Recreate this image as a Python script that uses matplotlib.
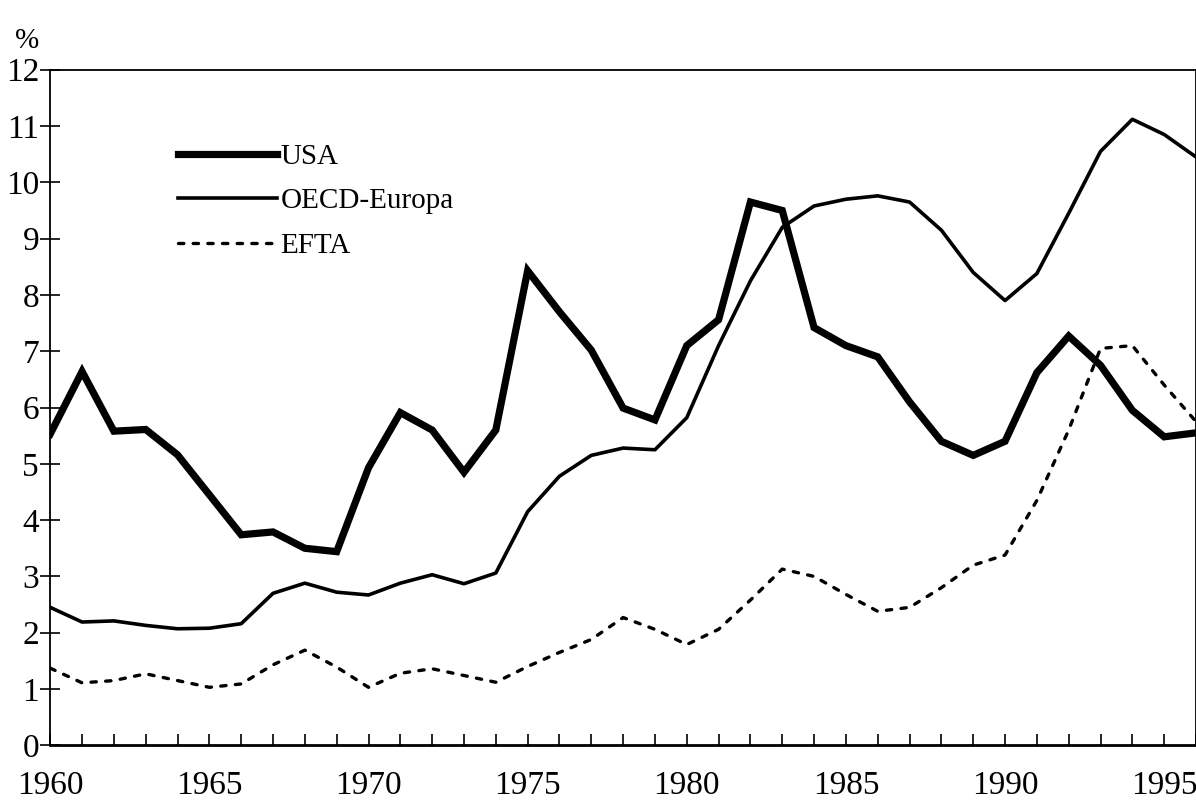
import matplotlib
matplotlib.use("Agg")
import matplotlib.pyplot as plt

plt.rcParams['font.family'] = ['Liberation Serif', 'DejaVu Serif']

years = list(range(1960, 1997))

usa = [5.53, 6.64, 5.58, 5.61, 5.16, 4.45, 3.74, 3.79, 3.50, 3.44,
       4.93, 5.91, 5.60, 4.85, 5.60, 8.43, 7.70, 7.02, 5.99, 5.78,
       7.10, 7.56, 9.65, 9.50, 7.42, 7.10, 6.90, 6.10, 5.40, 5.15,
       5.40, 6.62, 7.27, 6.75, 5.95, 5.48, 5.55]

oecd_europa = [2.45, 2.19, 2.21, 2.13, 2.07, 2.08, 2.16, 2.70, 2.88, 2.72,
               2.67, 2.88, 3.03, 2.87, 3.06, 4.15, 4.78, 5.15, 5.28, 5.25,
               5.82, 7.10, 8.25, 9.20, 9.58, 9.70, 9.76, 9.65, 9.15, 8.40,
               7.90, 8.38, 9.45, 10.55, 11.12, 10.85, 10.45]

efta = [1.37, 1.11, 1.15, 1.27, 1.15, 1.03, 1.09, 1.43, 1.69, 1.39,
        1.03, 1.28, 1.36, 1.24, 1.12, 1.40, 1.65, 1.88, 2.27, 2.06,
        1.79, 2.06, 2.58, 3.13, 3.00, 2.68, 2.38, 2.45, 2.80, 3.20,
        3.38, 4.35, 5.60, 7.05, 7.10, 6.40, 5.75]

labels = ['USA', 'OECD-Europa', 'EFTA']

fig = plt.figure(figsize=(11.96, 8.11), dpi=100)
ax = fig.add_axes([0.042, 0.081, 0.958, 0.833])

ax.plot(years, usa, color='black', lw=5.2, solid_joinstyle='miter', label=labels[0])
ax.plot(years, oecd_europa, color='black', lw=2.6, label=labels[1])
ax.plot(years, efta, color='black', lw=2.4, linestyle=(0, (1.6, 2.8)),
        dash_capstyle='round', label=labels[2])

ax.set_xlim(1960, 1996)
ax.set_ylim(0, 12)

ax.set_xticks(range(1960, 1996, 5))
ax.set_xticks(range(1960, 1997), minor=True)
ax.set_yticks(range(0, 13))

ax.tick_params(axis='x', which='both', direction='in', length=8, width=1.2,
               labelsize=24, pad=18)
ax.tick_params(axis='y', direction='inout', length=14, width=1.2,
               labelsize=24, pad=1)

for side in ['left', 'bottom', 'top', 'right']:
    ax.spines[side].set_linewidth(1.3)
ax.spines['bottom'].set_linewidth(2)

fig.text(0.023, 0.95, '%', fontsize=21, ha='center', va='center')

leg = ax.legend(loc='upper left', bbox_to_anchor=(0.149, 0.823),
                bbox_transform=fig.transFigure, frameon=False, fontsize=21,
                handlelength=3.4, handletextpad=0.1, labelspacing=0.62,
                borderpad=0, borderaxespad=0)

fig.savefig('out.png', dpi=100)
